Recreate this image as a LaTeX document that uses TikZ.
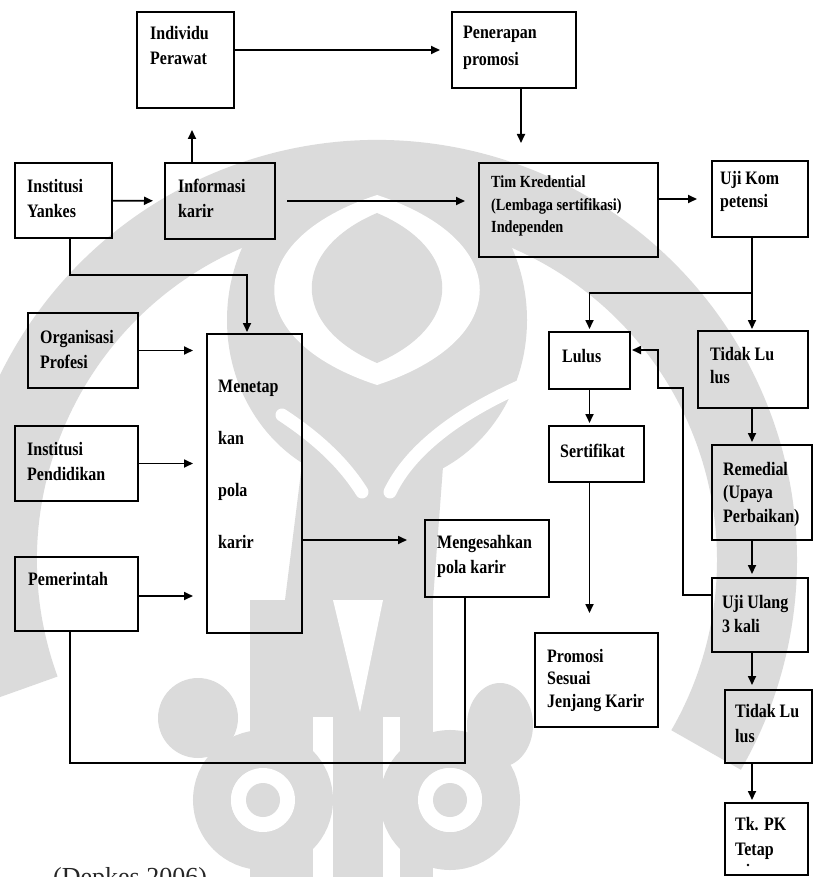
\documentclass[tikz,border=0pt]{standalone}
\usepackage{fontspec}
\setmainfont{Liberation Serif}[BoldFeatures={FakeStretch=0.84}]
\usetikzlibrary{arrows.meta}

\definecolor{wmgray}{gray}{0.86}

\tikzset{
  boxst/.style={draw, line width=1.8pt, inner sep=0pt, outer sep=0pt, anchor=north west},
  % multi-line labels are placed by the baseline of their last line
  txtst/.style={anchor=base west, align=left, inner sep=0pt,
    font=\fontsize{19}{25}\selectfont\bfseries},
  link/.style={line width=1.7pt},
  arr/.style={link, -{Triangle[length=9pt,width=8pt]}},
  wm/.style={fill=wmgray, draw=none},
  wmgap/.style={fill=white, draw=none},
}

% \flowbox{name}{left}{top}{right}{bottom}
\newcommand{\flowbox}[5]{%
  \node[boxst, minimum width={#4pt-#2pt}, minimum height={#5pt-#3pt}] (#1) at (#2,#3) {};}

\begin{document}
\begin{tikzpicture}[x=1pt,y=-1pt]
\useasboundingbox (0,0) rectangle (815,877);

% ---------- faint emblem in the background ----------
\begin{scope}
  \clip (0,0) rectangle (815,877);
  % outer arch
  \draw[draw=wmgray, line width=80pt] (377,560) ++(160:380) arc[start angle=160, end angle=390, radius=380];
  % crown with the central leaf
  \fill[wm] (377,320) ellipse[x radius=150, y radius=165];
  \fill[wmgap] (377,195) .. controls (514,240) and (514,340) .. (377,385)
                         .. controls (240,340) and (240,240) .. (377,195);
  \fill[wm] (377,213) .. controls (464,250) and (464,326) .. (377,363)
                      .. controls (290,326) and (290,250) .. (377,213);
  % stem
  \fill[wm] (305,440) -- (445,440) -- (433,600) -- (285,600) -- cycle;
  \draw[white, line width=13pt, line cap=round] (282,415) .. controls (320,440) and (345,465) .. (362,492);
  \draw[white, line width=13pt, line cap=round] (540,378) .. controls (460,410) and (410,450) .. (390,492);
  % lower body
  \fill[wm] (250,600) rectangle (433,877);
  \fill[wmgap] (333,600) -- (383,600) -- (360,712) -- cycle;
  \fill[wmgap] (313,717) rectangle (333,877);
  \fill[wmgap] (383,717) rectangle (400,877);
  % curls and eyes
  \fill[wm] (198,718) circle[radius=40];
  \fill[wm] (500,725) ellipse[x radius=33, y radius=42];
  \foreach \ex in {263,450} {
    \draw[draw=wmgray, line width=38pt] (\ex,800) circle[radius=51];
    \fill[wmgap] (\ex,800) circle[radius=32];
    \fill[wm] (\ex,800) circle[radius=17];
  }
\end{scope}

% ---------- boxes ----------
\flowbox{indiv}{137}{12}{234}{108}
\flowbox{pen}{452}{12}{576}{88}
\flowbox{yankes}{15}{163}{112}{238}
\flowbox{info}{165}{163}{275}{239}
\flowbox{tim}{479}{163}{658}{257}
\flowbox{uji}{712}{161}{808}{237}
\flowbox{org}{28}{313}{138}{388}
\flowbox{menetap}{207}{334}{302}{633}
\flowbox{lulus}{549}{332}{630}{389}
\flowbox{tidaka}{698}{331}{808}{408}
\flowbox{sert}{549}{426}{644}{482}
\flowbox{pend}{15}{426}{138}{501}
\flowbox{rem}{712}{445}{812}{540}
\flowbox{meng}{425}{520}{549}{597}
\flowbox{pem}{15}{557}{138}{631}
\flowbox{ujiu}{712}{578}{808}{652}
\flowbox{prom}{535}{633}{658}{727}
\flowbox{tidakb}{725}{690}{812}{763}
\flowbox{tk}{725}{803}{808}{875}

% ---------- texts ----------
\node[txtst] (indiv-t) at (150,65) {Individu\\Perawat};
\node[txtst, font=\fontsize{19}{27}\selectfont\bfseries] (pen-t) at (463,66) {Penerapan\\promosi};
\node[txtst] (yankes-t) at (27,218) {Institusi\\Yankes};
\node[txtst] (info-t) at (178,218) {Informasi\\karir};
\node[txtst, font=\fontsize{17}{22.5}\selectfont\bfseries] (tim-t) at (491,233) {Tim Kredential\\(Lembaga sertifikasi)\\Independen};
\node[txtst, font=\fontsize{19}{23}\selectfont\bfseries] (uji-t) at (720,208) {Uji Kom\\petensi};
\node[txtst] (org-t) at (40,368) {Organisasi\\Profesi};
\node[txtst] (pend-t) at (27,480) {Institusi\\Pendidikan};
\node[txtst, font=\fontsize{19}{51.7}\selectfont\bfseries] (menetap-t) at (218,548) {Menetap\\kan\\pola\\karir};
\node[txtst] (pem-t) at (28,585) {Pemerintah};
\node[txtst] (lulus-t) at (562,362) {Lulus};
\node[txtst, font=\fontsize{19}{23}\selectfont\bfseries] (tidaka-t) at (710,383) {Tidak Lu\\lus};
\node[txtst] (sert-t) at (560,457) {Sertifikat};
\node[txtst, font=\fontsize{19}{23.5}\selectfont\bfseries] (rem-t) at (723,522) {Remedial\\(Upaya\\Perbaikan)};
\node[txtst] (meng-t) at (437,573) {Mengesahkan\\pola karir};
\node[txtst, font=\fontsize{19}{24}\selectfont\bfseries] (ujiu-t) at (722,632) {Uji Ulang\\3 kali};
\node[txtst, font=\fontsize{19}{22.5}\selectfont\bfseries] (prom-t) at (547,707) {Promosi\\Sesuai\\Jenjang Karir};
\node[txtst] (tidakb-t) at (735,742) {Tidak Lu\\lus};
\node[txtst] (tk-t) at (735,855) {Tk. PK\\Tetap};
\fill (748,865) circle[radius=1.3pt];
\node[anchor=base west, inner sep=0pt, text=black!85, font=\fontsize{26}{30}\selectfont] (source) at (53,885) {(Depkes 2006)};

% ---------- bend points ----------
\coordinate (yk) at (247,275);
\coordinate (fork) at (752,293);
\coordinate (ret1) at (683,388);
\coordinate (ret2) at (658,350);
\coordinate (pe) at (70,763);
\coordinate (mk) at (302,540);

% ---------- connectors: top row ----------
\draw[arr, shorten >=12pt] (yankes) -- (info);
\draw[arr, shorten >=22pt] ([xshift=-28pt]info.north) -- ([xshift=-28pt]info.north |- indiv.south);
\draw[arr, shorten >=12pt] (indiv.east |- pen.west) -- (pen.west);
\draw[arr, shorten <=12pt, shorten >=14pt] (info.east) -- (info.east -| tim.west);
\draw[arr, shorten >=20pt] ([xshift=7pt]pen.south) -- ([xshift=7pt]pen.south |- tim.north);
\draw[arr, shorten >=15pt] (tim.east |- uji.west) -- (uji.west);

% ---------- connectors: left column ----------
\draw[arr, shorten >=2pt] (yankes.south -| pe) |- (yk) -- (yk |- menetap.north);
\draw[arr, shorten >=14pt] (org) -- (org -| menetap.west);
\draw[arr, shorten >=14pt] (pend) -- (pend -| menetap.west);
\draw[arr, shorten >=14pt] ([yshift=-2pt]pem.east) -- ([yshift=-2pt]pem.east -| menetap.west);
\draw[arr, shorten >=18pt] (mk) -- (mk -| meng.west);
\draw[link] (pem.south -| pe) -- (pe) -| ([xshift=-22pt]meng.south);

% ---------- connectors: test outcome ----------
\draw[link] (uji.south -| fork) -- (fork);
\draw[arr, shorten >=3pt] (fork) -| (lulus.north);
\draw[arr, shorten >=2pt] (fork) -- (fork |- tidaka.north);
\draw[arr, shorten >=3pt] (lulus.south) -- (lulus.south |- sert.north);
\draw[arr, shorten >=20pt] (lulus.south |- sert.south) -- (lulus.south |- prom.north);
\draw[arr, shorten >=3pt] (fork |- tidaka.south) -- (fork |- rem.north);
\draw[arr, shorten >=4pt] (fork |- rem.south) -- (fork |- ujiu.north);
\draw[arr, shorten >=5pt] (fork |- ujiu.south) -- (fork |- tidakb.north);
\draw[arr, shorten >=3pt] (fork |- tidakb.south) -- (fork |- tk.north);
\draw[arr, shorten >=2pt] ([yshift=20pt]ujiu.west) -| (ret1) -| (ret2) -- (ret2 -| lulus.east);

\end{tikzpicture}
\end{document}
